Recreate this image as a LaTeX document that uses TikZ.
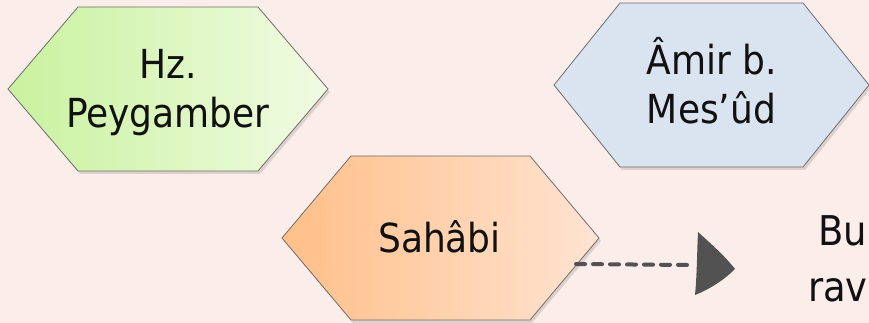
\documentclass[tikz,border=0pt]{standalone}
\usepackage{fontspec}
\setmainfont{DejaVu Sans Condensed}
\usetikzlibrary{calc}
\definecolor{bg}{HTML}{FBEEEA}
\definecolor{edgegray}{HTML}{6E6E6E}
\definecolor{greenL}{HTML}{C8F29E}
\definecolor{greenR}{HTML}{F1FBE3}
\definecolor{blueF}{HTML}{DAE3F0}
\definecolor{orangeL}{HTML}{FFBF88}
\definecolor{orangeR}{HTML}{FFE3D2}
\definecolor{arrowgray}{HTML}{525252}
\definecolor{txt}{HTML}{111111}
\newcommand\myhex[6]{%
  \path[#6] (#1-#3,#2) -- (#1-#4,#2-#5) -- (#1+#4,#2-#5) -- (#1+#3,#2) -- (#1+#4,#2+#5) -- (#1-#4,#2+#5) -- cycle;}
\newcommand\myhexsh[5]{%
  \fill[black,opacity=0.12] (#1-#3+2,#2+3) -- (#1-#4+2,#2-#5+3) -- (#1+#4+2,#2-#5+3) -- (#1+#3+2,#2+3) -- (#1+#4+2,#2+#5+3) -- (#1-#4+2,#2+#5+3) -- cycle;}
\begin{document}
\begin{tikzpicture}[x=1pt,y=-1pt,
  hexline/.style={draw=edgegray, line width=0.8pt},
  lbl/.style={align=center, font=\fontsize{40}{49}\selectfont, text=txt, inner sep=0pt, anchor=base},
  conn/.style={draw=arrowgray, line width=4pt, dash pattern=on 9pt off 8pt, line cap=round}]
\useasboundingbox (0,0) rectangle (869,323);
\fill[bg] (0,0) rectangle (869,323);
% shadows
\myhexsh{168}{89}{160}{90}{82}
\myhexsh{711.5}{85}{157.5}{91.5}{82}
\myhexsh{440.5}{238}{158.5}{89.5}{82}
% hexagons
\myhex{168}{89}{160}{90}{82}{hexline,left color=greenL,right color=greenR}
\myhex{711.5}{85}{157.5}{91.5}{82}{hexline,fill=blueF}
\myhex{440.5}{238}{158.5}{89.5}{82}{hexline,left color=orangeL,right color=orangeR}
% labels (base anchor = baseline of the last line)
\node[lbl] (hz) at (168,128) {Hz.\\Peygamber};
\node[lbl] (amir) at (711.5,124) {Âmir b.\\Mes’ûd};
\node[lbl] (sah) at (439.5,252) {Sahâbi};
\node[lbl,align=left,anchor=base west,font=\fontsize{41}{56}\selectfont] (bu) at (808,301) {\hspace*{10pt}Bu\\rav};
% connector
\coordinate (s) at (576,264);
\coordinate (h) at (690,265);
\coordinate (t) at (735,269);
\draw[conn] (s) -- (h);
\fill[arrowgray] (698,232) .. controls (710,243) and (724,255) .. (t)
  .. controls (724,280) and (710,289) .. (695,295)
  .. controls (697,275) and (697,252) .. cycle;
\end{tikzpicture}
\end{document}
